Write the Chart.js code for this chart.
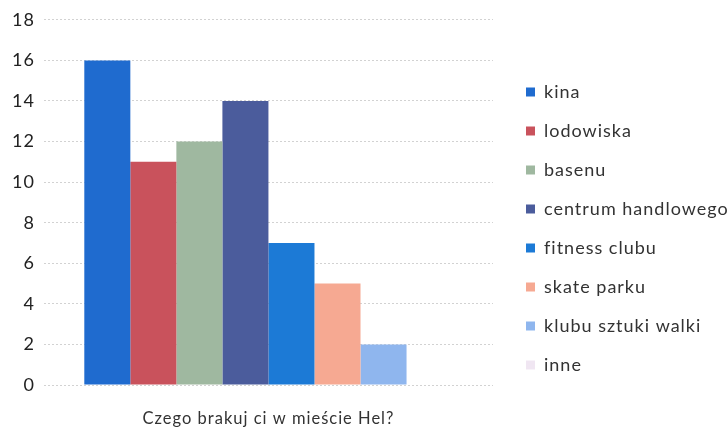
<!DOCTYPE html>
<html lang="pl">
<head>
    <meta charset="UTF-8">
    <title>Czego brakuje w mieście Hel</title>
    <script src="https://cdn.jsdelivr.net/npm/chart.js"></script>
    <style>
        html, body { margin: 0; padding: 0; background: #fff; }
        .chart-container { width: 728px; height: 432px; }
    </style>
</head>
<body>
    <div class="chart-container">
        <canvas id="helChart"></canvas>
    </div>

    <script>
        const categories = ['Czego brakuj ci w mieście Hel?'];
        const seriesNames = ['kina', 'lodowiska', 'basenu', 'centrum handlowego', 'fitness clubu', 'skate parku', 'klubu sztuki walki', 'inne'];
        const seriesValues = [16, 11, 12, 14, 7, 5, 2, 0];
        const seriesColors = ['#1f6bcf', '#c9525c', '#9fb8a0', '#4b5c9c', '#1c7ad6', '#f6a992', '#8fb6ee', '#f0e6f2'];
        const yTicks = [0, 2, 4, 6, 8, 10, 12, 14, 16, 18];

        const datasets = seriesNames.map((name, i) => ({
            label: name,
            data: [seriesValues[i]],
            backgroundColor: seriesColors[i],
            borderWidth: 0,
            barPercentage: 1,
            categoryPercentage: 0.82
        }));

        const LEGEND_W = 235;

        // scanned text looks spaced out, and the legend sits a bit lower/right
        const tweaks = {
            id: 'tweaks',
            beforeUpdate(chart) {
                chart.ctx.letterSpacing = '1px';
                const lg = chart.legend;
                if (lg && !lg._fixedW) {
                    const fit = lg.fit;
                    lg.fit = function () { fit.call(this); this.width = LEGEND_W; };
                    lg._fixedW = true;
                }
            },
            beforeDraw(chart) { chart.ctx.letterSpacing = '1px'; },
            afterLayout(chart) {
                const lg = chart.legend;
                if (lg) {
                    lg.top += 8; lg.bottom += 8;
                    lg.left += 12; lg.right += 12;
                }
            }
        };

        const ctx = document.getElementById('helChart').getContext('2d');
        new Chart(ctx, {
            type: 'bar',
            data: { labels: categories, datasets: datasets },
            plugins: [tweaks],
            options: {
                responsive: true,
                maintainAspectRatio: false,
                animation: false,
                layout: { padding: { top: 9, right: 0, bottom: 0, left: 3 } },
                plugins: {
                    tooltip: { enabled: false },
                    legend: {
                        position: 'right',
                        labels: {
                            font: { family: 'Lato', size: 18 },
                            color: '#333',
                            boxWidth: 9,
                            boxHeight: 9,
                            padding: 21
                        }
                    }
                },
                scales: {
                    x: {
                        grid: { display: false, drawTicks: false },
                        border: { display: false },
                        ticks: { font: { family: 'Lato', size: 16.5 }, color: '#333', padding: 24, maxRotation: 0, minRotation: 0 },
                        afterFit: s => { s.height = 47; }
                    },
                    y: {
                        min: 0,
                        max: 18,
                        afterBuildTicks: axis => { axis.ticks = yTicks.map(v => ({ value: v })); },
                        grid: { color: '#d2d2d2', drawTicks: false },
                        border: { display: false, dash: [2, 2] },
                        ticks: { font: { family: 'Lato', size: 18 }, color: '#222', padding: 9 }
                    }
                }
            }
        });
    </script>
</body>
</html>
